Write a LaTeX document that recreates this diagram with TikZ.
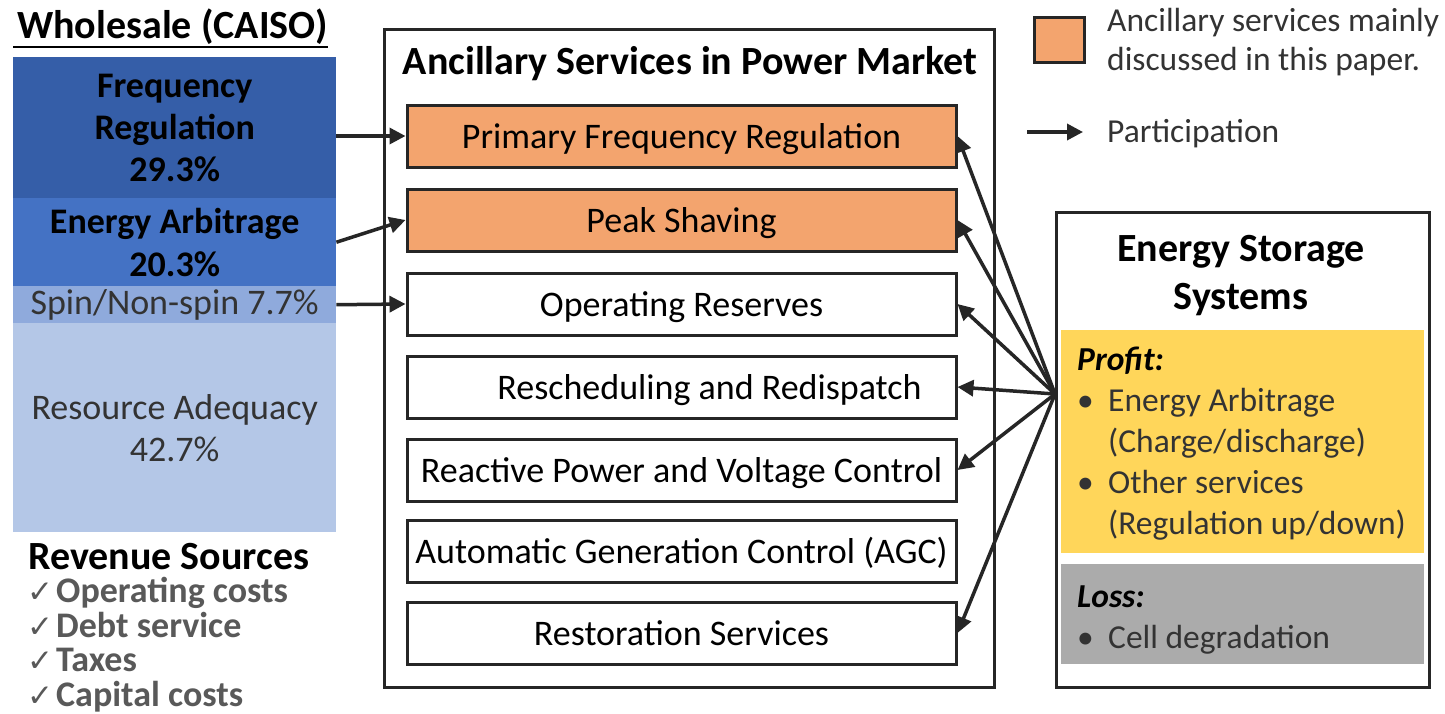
\documentclass[tikz,border=0pt]{standalone}
\usepackage{fontspec}
\setmainfont{Carlito}
\newfontfamily\symfont{DejaVu Sans}
\usetikzlibrary{arrows.meta}
\definecolor{lc}{HTML}{262626}
\definecolor{frc}{HTML}{355EA8}
\definecolor{eac}{HTML}{4472C4}
\definecolor{spc}{HTML}{8FAADC}
\definecolor{rac}{HTML}{B4C7E7}
\definecolor{orc}{HTML}{F3A46E}
\definecolor{ylc}{HTML}{FFD65A}
\definecolor{gyc}{HTML}{ABABAB}
\definecolor{tg}{HTML}{333333}
\definecolor{cg}{HTML}{595959}
\newcommand{\chk}{{\symfont\mdseries\fontsize{31}{34.7}\selectfont ✓}\hspace{3pt}}
\begin{document}
\begin{tikzpicture}[x=1pt,y=-1pt,
  bx/.style={draw=lc, line width=3pt, minimum width=549pt, minimum height=62pt, inner sep=0pt,
    text height=26pt, text depth=2pt, font=\fontsize{36}{42}\selectfont},
  seg/.style={minimum width=323pt, inner sep=0pt, anchor=north west, align=center},
  arr/.style={draw=lc, line width=3.5pt, -{Triangle[length=16pt,width=16pt]}},
  rsec/.style={minimum width=363pt, inner sep=0pt, anchor=north west},
  lst/.style={anchor=north west, align=left, inner sep=0pt, text=tg, font=\fontsize{33.5}{41}\selectfont}
]
\useasboundingbox (0,0) rectangle (1445,713);
\fill[white] (0,0) rectangle (1445,713);

% ---- Wholesale column
\node[font=\bfseries\fontsize{40}{46}\selectfont, anchor=base west, inner sep=0pt] (ws) at (17,38) {Wholesale (CAISO)};
\draw[line width=2.5pt] ([yshift=-9pt]ws.base west) ++(-4,0) -- ([yshift=-9pt]ws.base east);

\node[seg, fill=frc, minimum height=141pt, font=\bfseries\fontsize{36}{42}\selectfont] (fr) at (13,57) {Frequency\\Regulation\\29.3\%};
\node[seg, fill=eac, minimum height=88pt, font=\bfseries\fontsize{36}{43}\selectfont] (ea) at (13,198) {Energy Arbitrage\\20.3\%};
\node[seg, fill=spc, minimum height=37pt, text=tg, font=\fontsize{36}{40}\selectfont] (sp) at (13,286) {Spin/Non-spin 7.7\%};
\node[seg, fill=rac, minimum height=209pt, text=tg, font=\fontsize{36}{42}\selectfont] (ra) at (13,323) {Resource Adequacy\\42.7\%};

\node[font=\bfseries\fontsize{40}{46}\selectfont, anchor=base west, inner sep=0pt] (rs) at (28,569) {Revenue Sources};
\node[anchor=north west, align=left, inner sep=0pt, text=cg, font=\bfseries\fontsize{36}{34.5}\selectfont] (rl) at (27,577)
  {\chk Operating costs\\
   \chk Debt service\\
   \chk Taxes\\
   \chk Capital costs};

% ---- Market box
\node[draw=lc, line width=3pt, minimum width=610pt, minimum height=658pt, anchor=north west, inner sep=0pt] (mk) at (383,28) {};
\node[font=\bfseries\fontsize{40}{46}\selectfont, inner sep=0pt] (mt) at (690,64) {Ancillary Services in Power Market};

\node[bx, fill=orc] (b1) at (681.5,136) {Primary Frequency Regulation};
\node[bx, fill=orc] (b2) at (681.5,220) {Peak Shaving};
\node[bx] (b3) at (681.5,304) {Operating Reserves};
\node[bx] (b4) at (681.5,387) {\hspace*{56pt}Rescheduling and Redispatch};
\node[bx] (b5) at (681.5,470) {Reactive Power and Voltage Control};
\node[bx] (b6) at (681.5,551) {Automatic Generation Control (AGC)};
\node[bx] (b7) at (681.5,633) {Restoration Services};

% ---- left arrows
\draw[arr] (fr.east |- b1.west) -- (b1.west);
\draw[arr] (ea.east) -- (b2.west);
\draw[arr] (sp.east) -- (b3.west);

% ---- legend
\node[draw=lc, line width=3pt, fill=orc, minimum width=50pt, minimum height=45pt, inner sep=0pt, anchor=north west] (lg) at (1033,16) {};
\node[anchor=west, align=left, inner sep=0pt, text=tg, font=\fontsize{33.5}{39}\selectfont] (lgt) at (1107,42) {Ancillary services mainly\\discussed in this paper.};
\coordinate (la) at (1027,132);
\node[anchor=west, inner sep=0pt, text=tg, font=\fontsize{33.5}{40}\selectfont] (lpt) at (1107,134) {Participation};
\draw[arr] (la) -- ([xshift=-24pt]lpt.west |- la);

% ---- ESS box
\node[draw=lc, line width=3pt, minimum width=373pt, minimum height=475pt, anchor=north west, inner sep=0pt] (es) at (1055,211) {};
\node[align=center, inner sep=0pt, font=\bfseries\fontsize{40}{48}\selectfont] (et) at (1241,276) {Energy Storage\\Systems};
\node[rsec, fill=ylc, minimum height=223pt] (yl) at (1061,330) {};
\node[rsec, fill=gyc, minimum height=100pt] (gy) at (1061,564) {};
\node[lst] (pt) at (1077,347)
  {{\color{black}\bfseries\itshape Profit:}\\
   \makebox[31pt][l]{•}Energy Arbitrage\\
   \hspace*{31pt}(Charge/discharge)\\
   \makebox[31pt][l]{•}Other services\\
   \hspace*{31pt}(Regulation up/down)};
\node[lst] (ls) at (1077,586)
  {{\color{black}\bfseries\itshape Loss:}\\
   \makebox[31pt][l]{•}Cell degradation};

% ---- participation arrows
\coordinate (hub) at (1055,394);
\draw[arr] (hub) -- (b1.east);
\draw[arr] (hub) -- (b2.east);
\draw[arr] (hub) -- (b3.east);
\draw[arr] (hub) -- (b4.east);
\draw[arr] (hub) -- (b5.east);
\draw[arr] (hub) -- (b7.east);
\end{tikzpicture}
\end{document}
